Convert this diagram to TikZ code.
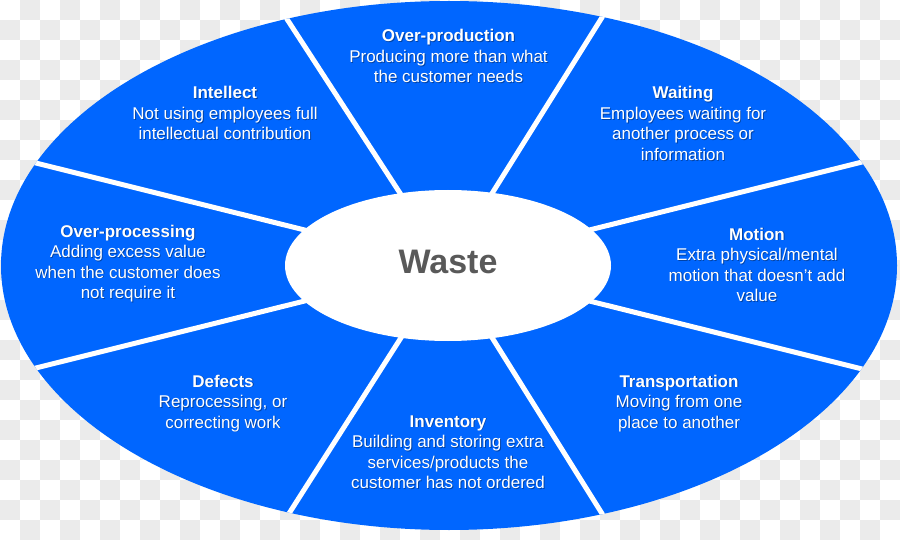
\documentclass[tikz,border=0pt]{standalone}
\usepackage{fontspec}
\setmainfont{Liberation Sans}
\usetikzlibrary{shapes.geometric}
\definecolor{wblue}{RGB}{0,102,255}
\definecolor{checkgray}{RGB}{235,235,235}
\definecolor{wastegray}{RGB}{89,89,89}
\tikzset{
  lbl/.style={text=white, align=center, anchor=base, inner sep=0pt,
    font=\fontsize{17pt}{20.5pt}\selectfont},
  lblshadow/.style={lbl, text=black, text opacity=0.35},
  divider/.style={draw=white, line width=5pt},
}
% name, x, title baseline y, number of lines, title, body
\newcommand{\wastelabel}[6]{%
  \node[lblshadow] (#1-sh) at (#2+0.9,#3+#4*20.5-20.5+0.9) {\textbf{#5}\\#6};
  \node[lbl] (#1) at (#2,#3+#4*20.5-20.5) {\textbf{#5}\\#6};
}
\begin{document}
\begin{tikzpicture}[x=1pt,y=-1pt]
\useasboundingbox (0,0) rectangle (900,540);
% transparent-background checkerboard
\foreach \i in {0,...,44}{
  \foreach \j in {0,...,26}{
    \pgfmathtruncatemacro\odd{mod(\i+\j,2)}
    \ifnum\odd=1 \fill[checkgray] (20*\i,20*\j) rectangle ++(20,20); \fi
  }
}
% outer ellipse
\fill[wblue] (449,265.5) ellipse [x radius=448pt, y radius=264.5pt];
\coordinate (c) at (447,265.5);
\begin{scope}
  \clip (449,265.5) ellipse [x radius=448pt, y radius=264.5pt];
  \foreach \a in {14,58,123,166,194,237.5,302,346}
    \draw[divider] (c) -- ++(\a:600pt);
\end{scope}
% inner ellipse
\node[ellipse, fill=white, minimum width=326pt, minimum height=151pt, inner sep=0pt] (waste) at (448,265.5) {};
\node[anchor=base, inner sep=0pt, text=wastegray, font=\fontsize{34pt}{40pt}\selectfont\bfseries] (wastetext) at (448,273) {Waste};
% labels
\wastelabel{prod}{448.5}{42}{3}{Over-production}{Producing more than what\\the customer needs}
\wastelabel{intellect}{225}{99}{3}{Intellect}{Not using employees full\\intellectual contribution}
\wastelabel{waiting}{683}{99}{4}{Waiting}{Employees waiting for\\another process or\\information}
\wastelabel{motion}{757}{240}{4}{Motion}{Extra physical/mental\\motion that doesn’t add\\value}
\wastelabel{overproc}{128}{237}{4}{Over-processing}{Adding excess value\\when the customer does\\not require it}
\wastelabel{defects}{223}{387}{3}{Defects}{Reprocessing, or\\correcting work}
\wastelabel{inventory}{448}{427}{4}{Inventory}{Building and storing extra\\services/products the\\customer has not ordered}
\wastelabel{transport}{679}{387}{3}{Transportation}{Moving from one\\place to another}
\end{tikzpicture}
\end{document}
